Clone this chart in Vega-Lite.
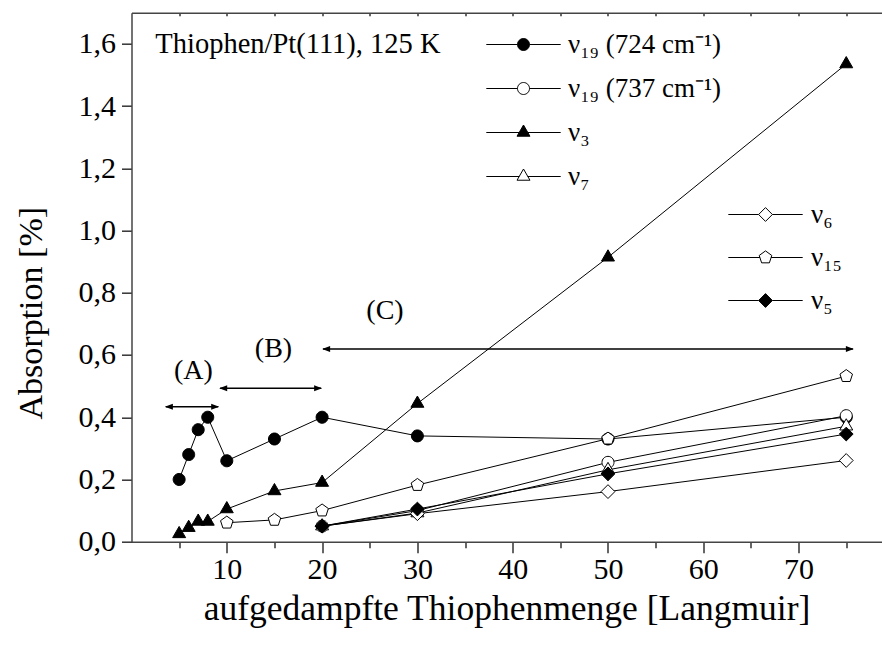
{
  "$schema": "https://vega.github.io/schema/vega-lite/v6.json",
  "width": 750,
  "height": 529,
  "autosize": {"type": "none"},
  "padding": {"left": 131.5, "top": 12.7, "right": 0, "bottom": 103.3},
  "background": "white",
  "config": {
    "view": {"stroke": null},
    "font": "Liberation Serif",
    "axis": {
      "grid": false,
      "domainColor": "#444",
      "domainWidth": 1.5,
      "tickColor": "#333",
      "tickWidth": 1.5,
      "labelColor": "black",
      "titleColor": "black",
      "labelFont": "Liberation Serif",
      "titleFont": "Liberation Serif",
      "titleFontWeight": "normal"
    },
    "legend": {
      "labelFont": "Liberation Serif",
      "labelColor": "black"
    }
  },
  "data": {
    "values": [
      {"series": "ν₁₉ (724 cm⁻¹)", "x": 5, "y": 0.20},
      {"series": "ν₁₉ (724 cm⁻¹)", "x": 6, "y": 0.28},
      {"series": "ν₁₉ (724 cm⁻¹)", "x": 7, "y": 0.36},
      {"series": "ν₁₉ (724 cm⁻¹)", "x": 8, "y": 0.40},
      {"series": "ν₁₉ (724 cm⁻¹)", "x": 10, "y": 0.26},
      {"series": "ν₁₉ (724 cm⁻¹)", "x": 15, "y": 0.33},
      {"series": "ν₁₉ (724 cm⁻¹)", "x": 20, "y": 0.40},
      {"series": "ν₁₉ (724 cm⁻¹)", "x": 30, "y": 0.34},
      {"series": "ν₁₉ (724 cm⁻¹)", "x": 50, "y": 0.33},
      {"series": "ν₁₉ (724 cm⁻¹)", "x": 75, "y": 0.40},
      {"series": "ν₁₉ (737 cm⁻¹)", "x": 20, "y": 0.05},
      {"series": "ν₁₉ (737 cm⁻¹)", "x": 30, "y": 0.10},
      {"series": "ν₁₉ (737 cm⁻¹)", "x": 50, "y": 0.255},
      {"series": "ν₁₉ (737 cm⁻¹)", "x": 75, "y": 0.405},
      {"series": "ν₃", "x": 5, "y": 0.025},
      {"series": "ν₃", "x": 6, "y": 0.045},
      {"series": "ν₃", "x": 7, "y": 0.065},
      {"series": "ν₃", "x": 8, "y": 0.065},
      {"series": "ν₃", "x": 10, "y": 0.105},
      {"series": "ν₃", "x": 15, "y": 0.163},
      {"series": "ν₃", "x": 20, "y": 0.19},
      {"series": "ν₃", "x": 30, "y": 0.444},
      {"series": "ν₃", "x": 50, "y": 0.914},
      {"series": "ν₃", "x": 75, "y": 1.535},
      {"series": "ν₇", "x": 20, "y": 0.05},
      {"series": "ν₇", "x": 30, "y": 0.092},
      {"series": "ν₇", "x": 50, "y": 0.231},
      {"series": "ν₇", "x": 75, "y": 0.371},
      {"series": "ν₆", "x": 20, "y": 0.05},
      {"series": "ν₆", "x": 30, "y": 0.09},
      {"series": "ν₆", "x": 50, "y": 0.161},
      {"series": "ν₆", "x": 75, "y": 0.261},
      {"series": "ν₁₅", "x": 10, "y": 0.061},
      {"series": "ν₁₅", "x": 15, "y": 0.070},
      {"series": "ν₁₅", "x": 20, "y": 0.10},
      {"series": "ν₁₅", "x": 30, "y": 0.182},
      {"series": "ν₁₅", "x": 50, "y": 0.331},
      {"series": "ν₁₅", "x": 75, "y": 0.532},
      {"series": "ν₅", "x": 20, "y": 0.05},
      {"series": "ν₅", "x": 30, "y": 0.105},
      {"series": "ν₅", "x": 50, "y": 0.218},
      {"series": "ν₅", "x": 75, "y": 0.346}
    ]
  },
  "layer": [
    {
      "mark": {"type": "line", "color": "black", "strokeWidth": 1},
      "encoding": {
        "x": {
          "field": "x", "type": "quantitative",
          "scale": {"domain": [0, 78.7], "nice": false, "zero": false},
          "axis": {
            "orient": "bottom",
            "title": "aufgedampfte Thiophenmenge [Langmuir]",
            "titleFont": "Liberation Serif",
            "labelFont": "Liberation Serif",
            "titleFontSize": 35.5,
            "titleFontWeight": "normal",
            "titlePadding": 7,
            "values": [5, 10, 15, 20, 25, 30, 35, 40, 45, 50, 55, 60, 65, 70, 75],
            "labelExpr": "datum.value % 10 === 0 ? datum.label : ''",
            "labelFontSize": 30,
            "labelPadding": 2,
            "tickSize": {"condition": {"test": "datum.value % 10 === 0", "value": 11}, "value": 6}
          }
        },
        "y": {
          "field": "y", "type": "quantitative",
          "scale": {"domain": [0, 1.7], "nice": false},
          "axis": {
            "title": "Absorption [%]",
            "titleFont": "Liberation Serif",
            "labelFont": "Liberation Serif",
            "titleFontSize": 34,
            "titleFontWeight": "normal",
            "titlePadding": 30,
            "titleY": 300,
            "values": [0, 0.1, 0.2, 0.3, 0.4, 0.5, 0.6, 0.7, 0.8, 0.9, 1.0, 1.1, 1.2, 1.3, 1.4, 1.5, 1.6],
            "labelExpr": "round(datum.value * 10) % 2 === 0 ? replace(format(datum.value, '.1f'), '.', ',') : ''",
            "labelFontSize": 30,
            "labelPadding": 6,
            "tickSize": {"condition": {"test": "round(datum.value * 10) % 2 === 0", "value": 10}, "value": 5}
          }
        },
        "detail": {"field": "series"}
      }
    },
    {
      "mark": {"type": "point", "filled": true, "stroke": "black", "strokeWidth": 1, "size": 144, "opacity": 1},
      "encoding": {
        "x": {"field": "x", "type": "quantitative", "axis": null},
        "y": {"field": "y", "type": "quantitative"},
        "shape": {
          "field": "series", "type": "nominal", "legend": null,
          "scale": {
            "domain": ["ν₁₉ (724 cm⁻¹)", "ν₁₉ (737 cm⁻¹)", "ν₃", "ν₇", "ν₆", "ν₁₅", "ν₅"],
            "range": [
              "M1,0A1,1 0 1,1 -1,0A1,1 0 1,1 1,0Z",
              "M1,0A1,1 0 1,1 -1,0A1,1 0 1,1 1,0Z",
              "M0,-1.25L1.08,0.62L-1.08,0.62Z",
              "M0,-1.25L1.08,0.62L-1.08,0.62Z",
              "M0,-1.15L1.15,0L0,1.15L-1.15,0Z",
              "M0,-1.1L1.046,-0.34L0.647,0.89L-0.647,0.89L-1.046,-0.34Z",
              "M0,-1.15L1.15,0L0,1.15L-1.15,0Z"
            ]
          }
        },
        "fill": {
          "field": "series", "type": "nominal", "legend": null,
          "scale": {
            "domain": ["ν₁₉ (724 cm⁻¹)", "ν₁₉ (737 cm⁻¹)", "ν₃", "ν₇", "ν₆", "ν₁₅", "ν₅"],
            "range": ["black", "white", "black", "white", "white", "white", "black"]
          }
        }
      }
    },
    {
      "transform": [{"filter": {"field": "series", "oneOf": ["ν₁₉ (724 cm⁻¹)", "ν₁₉ (737 cm⁻¹)", "ν₃", "ν₇"]}}],
      "mark": {"type": "point", "filled": true, "strokeWidth": 1, "size": 144, "opacity": 0},
      "encoding": {
        "x": {"field": "x", "type": "quantitative", "axis": null},
        "y": {"field": "y", "type": "quantitative"},
        "shape": {
          "field": "series", "type": "nominal",
          "scale": {
            "domain": ["ν₁₉ (724 cm⁻¹)", "ν₁₉ (737 cm⁻¹)", "ν₃", "ν₇"],
            "range": [
              "M-6.2,0H-1M1,0H6.2M1,0A1,1 0 1,1 -1,0A1,1 0 1,1 1,0Z",
              "M-6.2,0H-1M1,0H6.2M1,0A1,1 0 1,1 -1,0A1,1 0 1,1 1,0Z",
              "M-6.2,0H-0.7M0.7,0H6.2M0,-1.25L1.08,0.62L-1.08,0.62Z",
              "M-6.2,0H-0.7M0.7,0H6.2M0,-1.25L1.08,0.62L-1.08,0.62Z"
            ]
          },
          "legend": {
            "orient": "none", "legendX": 378.5, "legendY": 18.3, "title": null,
            "padding": 0, "symbolSize": 144, "symbolOpacity": 1,
            "symbolStrokeColor": "black", "symbolStrokeWidth": 1,
            "labelFont": "Liberation Serif",
            "labelFontSize": 27, "labelOffset": 31, "labelLimit": 400,
            "rowPadding": 16
          }
        },
        "fill": {
          "field": "series", "type": "nominal",
          "scale": {
            "domain": ["ν₁₉ (724 cm⁻¹)", "ν₁₉ (737 cm⁻¹)", "ν₃", "ν₇"],
            "range": ["black", "white", "black", "white"]
          },
          "legend": {
            "orient": "none", "legendX": 378.5, "legendY": 18.3, "title": null,
            "padding": 0, "symbolSize": 144, "symbolOpacity": 1,
            "symbolStrokeColor": "black", "symbolStrokeWidth": 1,
            "labelFont": "Liberation Serif",
            "labelFontSize": 27, "labelOffset": 31, "labelLimit": 400,
            "rowPadding": 16
          }
        },
        "stroke": {
          "field": "series", "type": "nominal",
          "scale": {
            "domain": ["ν₁₉ (724 cm⁻¹)", "ν₁₉ (737 cm⁻¹)", "ν₃", "ν₇"],
            "range": ["black", "black", "black", "black"]
          },
          "legend": {
            "orient": "none", "legendX": 378.5, "legendY": 18.3, "title": null,
            "padding": 0, "symbolSize": 144, "symbolOpacity": 1,
            "symbolStrokeColor": "black", "symbolStrokeWidth": 1,
            "labelFont": "Liberation Serif",
            "labelFontSize": 27, "labelOffset": 31, "labelLimit": 400,
            "rowPadding": 16
          }
        }
      }
    },
    {
      "transform": [{"filter": {"field": "series", "oneOf": ["ν₆", "ν₁₅", "ν₅"]}}],
      "mark": {"type": "point", "filled": true, "strokeWidth": 1, "size": 144, "opacity": 0},
      "encoding": {
        "x": {"field": "x", "type": "quantitative", "axis": null},
        "y": {"field": "y", "type": "quantitative"},
        "shape": {
          "field": "series", "type": "nominal",
          "scale": {
            "domain": ["ν₆", "ν₁₅", "ν₅"],
            "range": [
              "M-6.2,0H-1.15M1.15,0H6.2M0,-1.15L1.15,0L0,1.15L-1.15,0Z",
              "M-6.2,0H-0.93M0.93,0H6.2M0,-1.1L1.046,-0.34L0.647,0.89L-0.647,0.89L-1.046,-0.34Z",
              "M-6.2,0H-1.15M1.15,0H6.2M0,-1.15L1.15,0L0,1.15L-1.15,0Z"
            ]
          },
          "legend": {
            "orient": "none", "legendX": 620.5, "legendY": 188.3, "title": null,
            "padding": 0, "symbolSize": 144, "symbolOpacity": 1,
            "symbolStrokeColor": "black", "symbolStrokeWidth": 1,
            "labelFont": "Liberation Serif",
            "labelFontSize": 27, "labelOffset": 32, "labelLimit": 400,
            "rowPadding": 15
          }
        },
        "fill": {
          "field": "series", "type": "nominal",
          "scale": {
            "domain": ["ν₆", "ν₁₅", "ν₅"],
            "range": ["white", "white", "black"]
          },
          "legend": {
            "orient": "none", "legendX": 620.5, "legendY": 188.3, "title": null,
            "padding": 0, "symbolSize": 144, "symbolOpacity": 1,
            "symbolStrokeColor": "black", "symbolStrokeWidth": 1,
            "labelFont": "Liberation Serif",
            "labelFontSize": 27, "labelOffset": 32, "labelLimit": 400,
            "rowPadding": 15
          }
        },
        "stroke": {
          "field": "series", "type": "nominal",
          "scale": {
            "domain": ["ν₆", "ν₁₅", "ν₅"],
            "range": ["black", "black", "black"]
          },
          "legend": {
            "orient": "none", "legendX": 620.5, "legendY": 188.3, "title": null,
            "padding": 0, "symbolSize": 144, "symbolOpacity": 1,
            "symbolStrokeColor": "black", "symbolStrokeWidth": 1,
            "labelFont": "Liberation Serif",
            "labelFontSize": 27, "labelOffset": 32, "labelLimit": 400,
            "rowPadding": 15
          }
        }
      }
    },
    {
      "data": {"values": [{}]},
      "mark": {"type": "text", "font": "Liberation Serif", "fontSize": 28.5, "align": "left", "baseline": "middle", "color": "black", "text": "Thiophen/Pt(111), 125 K"},
      "encoding": {
        "x": {"datum": 2.5, "type": "quantitative",
          "axis": {"orient": "top", "title": null, "labels": false,
            "values": [5, 10, 15, 20, 25, 30, 35, 40, 45, 50, 55, 60, 65, 70, 75],
            "tickSize": -3}},
        "y": {"datum": 1.6, "type": "quantitative"}
      }
    },
    {
      "data": {"values": [{}]},
      "mark": {"type": "text", "font": "Liberation Serif", "fontSize": 28, "align": "center", "baseline": "middle", "color": "black", "text": "(A)"},
      "encoding": {"x": {"datum": 6.5, "type": "quantitative", "axis": null}, "y": {"datum": 0.548, "type": "quantitative"}}
    },
    {
      "data": {"values": [{}]},
      "mark": {"type": "text", "font": "Liberation Serif", "fontSize": 28, "align": "center", "baseline": "middle", "color": "black", "text": "(B)"},
      "encoding": {"x": {"datum": 14.9, "type": "quantitative", "axis": null}, "y": {"datum": 0.619, "type": "quantitative"}}
    },
    {
      "data": {"values": [{}]},
      "mark": {"type": "text", "font": "Liberation Serif", "fontSize": 28, "align": "center", "baseline": "middle", "color": "black", "text": "(C)"},
      "encoding": {"x": {"datum": 26.6, "type": "quantitative", "axis": null}, "y": {"datum": 0.74, "type": "quantitative"}}
    },
    {
      "data": {"values": [{}]},
      "mark": {"type": "rule", "color": "black", "strokeWidth": 1.5},
      "encoding": {"x": {"datum": 3.6, "type": "quantitative", "axis": null}, "x2": {"datum": 9.1}, "y": {"datum": 0.434, "type": "quantitative"}}
    },
    {
      "data": {"values": [{}]},
      "mark": {"type": "rule", "color": "black", "strokeWidth": 1.5},
      "encoding": {"x": {"datum": 9.3, "type": "quantitative", "axis": null}, "x2": {"datum": 19.9}, "y": {"datum": 0.493, "type": "quantitative"}}
    },
    {
      "data": {"values": [{}]},
      "mark": {"type": "rule", "color": "black", "strokeWidth": 1.5},
      "encoding": {"x": {"datum": 20.1, "type": "quantitative", "axis": null}, "x2": {"datum": 75.7}, "y": {"datum": 0.619, "type": "quantitative"}}
    },
    {
      "data": {"values": [{}]},
      "mark": {"type": "point", "filled": true, "color": "black", "strokeWidth": 0, "size": 64, "opacity": 1, "shape": "M0,0L2,-0.75L2,0.75Z"},
      "encoding": {"x": {"datum": 3.5, "type": "quantitative", "axis": null}, "y": {"datum": 0.434, "type": "quantitative"}}
    },
    {
      "data": {"values": [{}]},
      "mark": {"type": "point", "filled": true, "color": "black", "strokeWidth": 0, "size": 64, "opacity": 1, "shape": "M0,0L-2,-0.75L-2,0.75Z"},
      "encoding": {"x": {"datum": 9.2, "type": "quantitative", "axis": null}, "y": {"datum": 0.434, "type": "quantitative"}}
    },
    {
      "data": {"values": [{}]},
      "mark": {"type": "point", "filled": true, "color": "black", "strokeWidth": 0, "size": 64, "opacity": 1, "shape": "M0,0L2,-0.75L2,0.75Z"},
      "encoding": {"x": {"datum": 9.2, "type": "quantitative", "axis": null}, "y": {"datum": 0.493, "type": "quantitative"}}
    },
    {
      "data": {"values": [{}]},
      "mark": {"type": "point", "filled": true, "color": "black", "strokeWidth": 0, "size": 64, "opacity": 1, "shape": "M0,0L-2,-0.75L-2,0.75Z"},
      "encoding": {"x": {"datum": 20.0, "type": "quantitative", "axis": null}, "y": {"datum": 0.493, "type": "quantitative"}}
    },
    {
      "data": {"values": [{}]},
      "mark": {"type": "point", "filled": true, "color": "black", "strokeWidth": 0, "size": 64, "opacity": 1, "shape": "M0,0L2,-0.75L2,0.75Z"},
      "encoding": {"x": {"datum": 20.0, "type": "quantitative", "axis": null}, "y": {"datum": 0.619, "type": "quantitative"}}
    },
    {
      "data": {"values": [{}]},
      "mark": {"type": "point", "filled": true, "color": "black", "strokeWidth": 0, "size": 64, "opacity": 1, "shape": "M0,0L-2,-0.75L-2,0.75Z"},
      "encoding": {"x": {"datum": 75.8, "type": "quantitative", "axis": null}, "y": {"datum": 0.619, "type": "quantitative"}}
    }
  ],
  "resolve": {
    "scale": {"shape": "independent", "fill": "independent", "stroke": "independent"},
    "axis": {"x": "independent"}
  }
}
